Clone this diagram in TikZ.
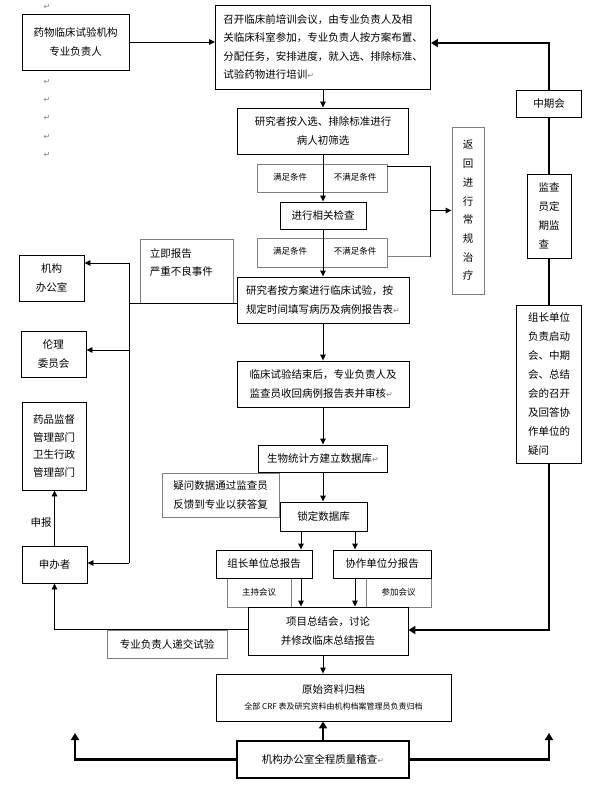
\documentclass[tikz,border=0pt]{standalone}
\usepackage{fontspec}
\setmainfont{Noto Sans CJK SC}
\newfontfamily\symfont{DejaVu Sans}
\usetikzlibrary{arrows.meta}
\newcommand{\pmk}{{\symfont\color{gray}\fontsize{8}{8}\selectfont ↵}}
\tikzset{
  flowbox/.style={draw, line width=0.9pt, inner sep=0pt, align=center, font=\fontsize{10.5}{18.5}\selectfont},
  graybox/.style={flowbox, draw=gray},
  heavybox/.style={flowbox, line width=2.4pt},
  flowarr/.style={line width=0.9pt, -{Triangle[length=6pt,width=5.5pt]}},
  heavyline/.style={line width=2.4pt},
  heavyarr/.style={heavyline, -{Triangle[length=7pt,width=8pt]}},
  smalltxt/.style={font=\fontsize{8.5}{10}\selectfont, inner sep=0pt},
}
\begin{document}
\begin{tikzpicture}[x=1pt,y=-1pt]
  \useasboundingbox (0,0) rectangle (599,794);
  % stray paragraph marks
  \foreach \y in {7,82,100,118,137,155}
    \node[inner sep=0pt] (pm\y) at (47,\y) {\pmk};

  % main column
  \node[flowbox, minimum width=107, minimum height=56] (org) at (75.5,42) {药物临床试验机构\\专业负责人};
  \node[flowbox, align=left, minimum width=215, minimum height=84] (train) at (323,47) {召开临床前培训会议，由专业负责人及相\\关临床科室参加，专业负责人按方案布置、\\分配任务，安排进度，就入选、排除标准、\\试验药物进行培训\pmk};
  \node[flowbox, minimum width=171, minimum height=46] (screen) at (323,131) {研究者按入选、排除标准进行\\病人初筛选};
  \node[graybox, minimum width=130, minimum height=28] (cond1) at (322,178) {};
  \node[smalltxt] (ok1) at (290,177) {满足条件};
  \node[smalltxt] (no1) at (355,177) {不满足条件};
  \node[flowbox, minimum width=86, minimum height=27] (check) at (323,215.5) {进行相关检查};
  \node[graybox, minimum width=130, minimum height=29] (cond2) at (322,252.5) {};
  \node[smalltxt] (ok2) at (290,251) {满足条件};
  \node[smalltxt] (no2) at (355,251) {不满足条件};
  \node[flowbox, align=left, minimum width=172, minimum height=46] (trial) at (323,300) {研究者按方案进行临床试验，按\\规定时间填写病历及病例报告表\pmk};
  \node[flowbox, align=left, minimum width=172, minimum height=46] (collect) at (323,384) {临床试验结束后，专业负责人及\\监查员收回病例报告表并审核\pmk};
  \node[flowbox, minimum width=129, minimum height=27] (db) at (323,458.5) {生物统计方建立数据库\pmk};
  \node[graybox, align=left, minimum width=117, minimum height=44] (query) at (220.5,495) {疑问数据通过监查员\\反馈到专业以获答复};
  \node[flowbox, minimum width=87, minimum height=29] (lock) at (323.5,516.5) {锁定数据库};
  \node[graybox, smalltxt, minimum width=64, minimum height=29] (host) at (259,592.5) {主持会议};
  \node[graybox, smalltxt, minimum width=65, minimum height=29] (join) at (398.5,592.5) {参加会议};
  \node[flowbox, minimum width=96, minimum height=28] (lead) at (264,564) {组长单位总报告};
  \node[flowbox, minimum width=98, minimum height=28] (coop) at (382,564) {协作单位分报告};
  \node[flowbox, minimum width=160, minimum height=48] (sum) at (328,631) {项目总结会，讨论\\并修改临床总结报告};
  \node[flowbox, minimum width=235, minimum height=47] (arch) at (333.5,697.5) {原始资料归档\\[-2pt]{\fontsize{8}{10}\selectfont 全部 CRF 表及研究资料由机构档案管理员负责归档}};
  \node[heavybox, minimum width=172, minimum height=37] (audit) at (323,759.5) {机构办公室全程质量稽查\pmk};

  % left column
  \node[flowbox, minimum width=65, minimum height=46] (office) at (51.5,278) {机构\\办公室};
  \node[flowbox, minimum width=65, minimum height=46] (ethic) at (53.5,354) {伦理\\委员会};
  \node[flowbox, minimum width=64, minimum height=88, font=\fontsize{10.5}{17.7}\selectfont] (fda) at (54,446) {药品监督\\管理部门\\卫生行政\\管理部门};
  \node[flowbox, minimum width=65, minimum height=37] (sponsor) at (54.5,564.5) {申办者};
  \node[graybox, minimum width=93, minimum height=64] (sae) at (186.5,271) {};
  \node[anchor=north west, align=left, inner sep=0pt, font=\fontsize{10.5}{18}\selectfont] (saetxt) at ([shift={(10,10)}]sae.north west) {立即报告\\严重不良事件};
  \node[graybox, minimum width=120, minimum height=28] (submit) at (167,644) {专业负责人递交试验};
  \node[inner sep=1pt, font=\fontsize{10.5}{12}\selectfont] (report) at (41,523) {申报};

  % right column
  \node[graybox, minimum width=32, minimum height=167, font=\fontsize{10.5}{18.7}\selectfont] (back) at (468,210.5) {返\\回\\进\\行\\常\\规\\治\\疗};
  \node[flowbox, minimum width=65, minimum height=27] (midm) at (549,103.5) {中期会};
  \node[flowbox, align=left, minimum width=44, minimum height=84, font=\fontsize{10.5}{19}\selectfont] (mon) at (549,216) {监查\\员定\\期监\\查};
  \node[flowbox, align=left, minimum width=65, minimum height=158, font=\fontsize{10.5}{19}\selectfont] (leadm) at (549,384) {组长单位\\负责启动\\会、中期\\会、总结\\会的召开\\及回答协\\作单位的\\疑问};

  % main flow
  \draw[flowarr] (org.east) -- (org.east -| train.west);
  \draw[flowarr] (train.south) -- (screen.north);
  \draw[flowarr] (screen.south) -- (check.north);
  \draw[flowarr] (check.south) -- (trial.north);
  \draw[flowarr] (trial.south) -- (collect.north);
  \draw[flowarr] (collect.south) -- (db.north);
  \draw[flowarr] (db.south) -- (db.south |- lock.north);
  \coordinate (colL) at (301,0);
  \coordinate (colR) at (355,0);
  \draw[flowarr] (lock.south -| colL) -- (lead.north -| colL);
  \draw[flowarr] (lock.south -| colR) -- (coop.north -| colR);
  \draw[flowarr] (lead.south -| colL) -- (sum.north -| colL);
  \draw[flowarr] (coop.south -| colR) -- (sum.north -| colR);
  \draw[flowarr] (sum.south -| audit) -- (arch.north -| audit);
  \draw[heavyarr] (audit.north) -- (audit.north |- arch.south);
  \coordinate (botL) at (75,733);
  \coordinate (botR) at (549,733);
  \draw[heavyarr] (audit.west) -| (botL);
  \draw[heavyarr] (audit.east) -| (botR);

  % not meeting the conditions
  \coordinate (brkT) at (430,166);
  \coordinate (brkB) at (430,256.5);
  \draw[line width=0.9pt] (cond1.east |- brkT) -- (brkT) -- (brkB);
  \draw[line width=0.9pt, gray] (brkB) -- (cond2.east |- brkB);
  \draw[flowarr] (back.west -| brkT) -- (back.west);

  % reporting bus
  \coordinate (busT) at (129,263);
  \coordinate (busE) at (129,350);
  \coordinate (busB) at (129,563);
  \draw[line width=0.9pt] (sae.south -| trial.west) -- (sae.south -| busT);
  \draw[line width=0.9pt] (busT) -- (busB);
  \draw[flowarr] (busT) -- (busT -| office.east);
  \draw[flowarr] (busE) -- (busE -| ethic.east);
  \draw[flowarr] (busB) -- (busB -| sponsor.east);
  \draw[flowarr] (sponsor.north) -- (sponsor.north |- fda.south);
  \coordinate (retL) at (54,629);
  \draw[flowarr] (sum.west |- retL) -| (sponsor.south);

  % monitoring line
  \draw[heavyarr] (midm.north) |- ([yshift=4pt]train.east);
  \draw[heavyline] (midm.south) -- (mon.north);
  \draw[heavyline] (mon.south) -- (leadm.north);
  \draw[heavyarr] (leadm.south) |- ([yshift=1pt]sum.east);
\end{tikzpicture}
\end{document}
